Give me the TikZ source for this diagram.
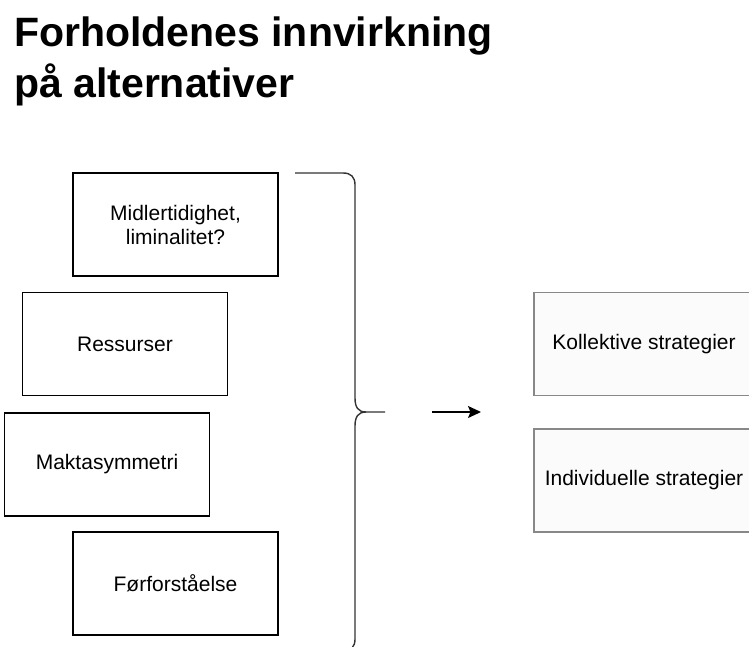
\documentclass[tikz,border=0pt]{standalone}
\usepackage{fontspec}
\setmainfont{Liberation Sans}
\usetikzlibrary{arrows.meta}
\definecolor{bracegray}{HTML}{333333}
\definecolor{outgray}{HTML}{888888}
\definecolor{outfill}{HTML}{FBFBFB}

\begin{document}
\begin{tikzpicture}[x=1pt,y=-1pt,
  heading/.style={font=\fontsize{41}{51}\selectfont\bfseries,align=left,inner sep=0pt},
  factor/.style={draw=black,line width=1.1pt,minimum width=205pt,minimum height=103pt,inner sep=0pt,align=center,font=\fontsize{21}{24}\selectfont},
  outcome/.style={draw=outgray,fill=outfill,line width=1.1pt,minimum width=220pt,minimum height=103pt,inner sep=0pt,align=center,font=\fontsize{21}{24}\selectfont},
  brace/.style={draw=bracegray,line width=1.4pt},
  arr/.style={line width=1.6pt,-{Stealth[length=13pt,width=12pt,inset=2.5pt]}}]
\clip (0,0) rectangle (749,646);
\fill [white] (0,0) rectangle (749,646);
\node [heading,anchor=base west] (title) at (14,97) {Forholdenes innvirkning\\på alternativer};
\node [factor] (midl) at (175.5,224.5) {Midlertidighet,\\liminalitet?};
\node [factor] (ress) at (125,344) {Ressurser};
\node [factor] (makt) at (107,464.5) {Maktasymmetri};
\node [factor] (forf) at (175.5,583.5) {Førforståelse};
\node [outcome] (koll) at (644,344) {Kollektive strategier};
\node [outcome] (indi) at (644,480.5) {Individuelle strategier};
\draw [brace] (295,173) -- (343,173) .. controls (351,173) and (355,177) .. (355,185) -- (355,398) .. controls (355,407) and (358,412) .. (366,412) -- (385,412);
\draw [brace] (366,412) .. controls (358,412) and (355,417) .. (355,426) -- (355,639) .. controls (355,647) and (351,651) .. (343,651) -- (295,651);
\coordinate (arrfrom) at (432,412);
\coordinate (arrto) at (481,412);
\draw [arr] (arrfrom) -- (arrto);
\end{tikzpicture}
\end{document}
